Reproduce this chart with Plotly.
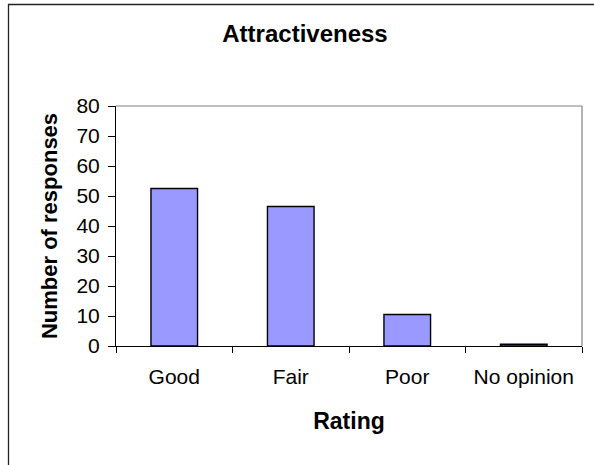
import plotly.graph_objects as go

categories = ["Good", "Fair", "Poor", "No opinion"]
responses = [52.5, 46.5, 10.5, 0.6]
y_ticks = [0, 10, 20, 30, 40, 50, 60, 70, 80]

W, H = 594, 465
L, R, T, B = 116, 12, 106, 119
FONT = "Liberation Sans, Arial, Helvetica, sans-serif"

fig = go.Figure(go.Bar(
    x=categories, y=responses,
    marker=dict(color="#9999FF", line=dict(color="#000000", width=1.4)),
    width=0.4,
))

pw = W - L - R
ph = H - T - B

def px2paper_x(px):
    return (px - L) / pw

def py2paper_y(py):
    return (H - B - py) / ph

fig.update_layout(
    width=W, height=H,
    margin=dict(l=L, r=R, t=T, b=B),
    paper_bgcolor="white", plot_bgcolor="white",
    showlegend=False,
    font=dict(family=FONT, color="#000000", size=21),
    title=dict(text="<b>Attractiveness</b>", x=305 / W, xref="container", xanchor="center",
               y=1 - 34 / H, yref="container", yanchor="middle",
               font=dict(family=FONT, size=24, color="#000000")),
    xaxis=dict(
        showline=True, linecolor="#000000", linewidth=1,
        ticks="outside", tickson="boundaries", ticklen=6, tickcolor="#000000", tickwidth=1,
        showgrid=False, ticklabelstandoff=12,
        tickfont=dict(family=FONT, size=21),
        title=dict(text="<b>Rating</b>", standoff=25, font=dict(family=FONT, size=23)),
        range=[-0.5, 3.5],
    ),
    yaxis=dict(
        range=[0, 80], tickvals=y_ticks,
        showline=True, linecolor="#000000", linewidth=1,
        ticks="outside", ticklen=7, tickcolor="#000000", tickwidth=1,
        showgrid=False, zeroline=False, ticklabelstandoff=4,
        tickfont=dict(family=FONT, size=21),
        title=dict(text="<b>Number of responses</b>", standoff=12, font=dict(family=FONT, size=22)),
    ),
    shapes=[
        dict(type="line", xref="paper", yref="paper", x0=0, x1=1, y0=1, y1=1,
             line=dict(color="#808080", width=1)),
        dict(type="line", xref="paper", yref="paper", x0=1, x1=1, y0=0, y1=1,
             line=dict(color="#808080", width=1.2)),
        dict(type="line", xref="paper", yref="paper",
             x0=px2paper_x(8), x1=px2paper_x(W + 5),
             y0=py2paper_y(4.5), y1=py2paper_y(4.5),
             line=dict(color="#222222", width=1.3), layer="above"),
        dict(type="line", xref="paper", yref="paper",
             x0=px2paper_x(8.5), x1=px2paper_x(8.5),
             y0=py2paper_y(4), y1=py2paper_y(H + 5),
             line=dict(color="#222222", width=1.3), layer="above"),
    ],
)

fig.write_html("out.html", config={"displayModeBar": False},
               post_script="document.body.style.margin='0';")
